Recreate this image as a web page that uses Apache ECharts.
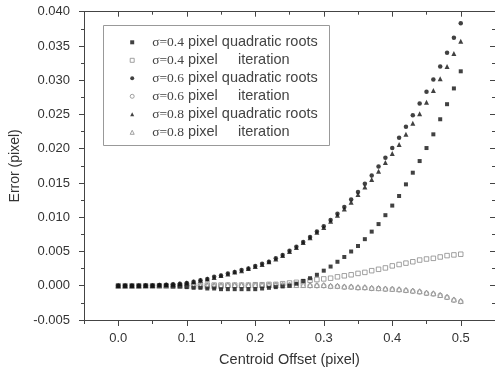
<!DOCTYPE html>
<html>
<head>
<meta charset="utf-8">
<script src="https://cdn.jsdelivr.net/npm/echarts@6/dist/echarts.min.js"></script>
<style>html,body{margin:0;padding:0;background:#fff;}#c{width:495px;height:374px;}</style>
</head>
<body>
<div id="c"></div>
<script>
const offsets = [0,0.01,0.02,0.03,0.04,0.05,0.06,0.07,0.08,0.09,
 0.10,0.11,0.12,0.13,0.14,0.15,0.16,0.17,0.18,0.19,
 0.20,0.21,0.22,0.23,0.24,0.25,0.26,0.27,0.28,0.29,
 0.30,0.31,0.32,0.33,0.34,0.35,0.36,0.37,0.38,0.39,
 0.40,0.41,0.42,0.43,0.44,0.45,0.46,0.47,0.48,0.49,0.50];

const quad04 = [0,0,0,0,0,0,0,0,-0.0001,-0.0001,
 -0.0002,-0.0003,-0.0003,-0.0004,-0.0004,-0.0005,-0.0005,-0.0005,-0.0005,-0.0005,
 -0.0005,-0.0004,-0.0003,-0.0002,-0.0001,0.0000,0.0003,0.0007,0.0011,0.0016,
 0.0022,0.0028,0.0035,0.0042,0.0050,0.0058,0.0068,0.0079,0.0090,0.0103,
 0.0117,0.0131,0.0148,0.0165,0.0182,0.0201,0.0221,0.0243,0.0265,0.0288,
 0.0313];
const iter04 = [0,0,0,0,0,0,0,0,0,0,
 0.0001,0.0001,0.0001,0.0001,0.0001,0.0001,0.0001,0.0001,0.0001,0.0001,
 0.00015,0.00015,0.0002,0.0002,0.0003,0.0004,0.0005,0.0006,0.0008,0.0009,
 0.0010,0.0011,0.0013,0.00145,0.0016,0.0018,0.00195,0.0022,0.0024,0.0026,
 0.0029,0.0031,0.0033,0.0035,0.00375,0.0039,0.0040,0.0042,0.0044,0.0045,
 0.0046];
const quad06 = [0,0,0,0,0.00002,0.00005,0.0001,0.00015,0.0002,0.0003,
 0.0004,0.0006,0.0008,0.0010,0.0013,0.0015,0.0018,0.0020,0.0023,0.0025,
 0.0029,0.0032,0.0035,0.0040,0.0045,0.0051,0.0057,0.0064,0.0071,0.0079,
 0.0087,0.0096,0.0105,0.0115,0.0126,0.0137,0.0149,0.0161,0.0174,0.0187,
 0.0201,0.0216,0.0232,0.0249,0.0266,0.0283,0.0301,0.0320,0.0340,0.0362,
 0.0383];
const iter06 = [0,0,0,0,0,0,0,0,0,0,
 0,0,0,0,0,0,0,0,0,0,
 0.0001,0.0001,0.0001,0.0001,0.0001,0.0001,0.0001,0.0001,0,0,
 0,-0.0001,-0.0001,-0.0002,-0.0002,-0.0003,-0.0003,-0.0004,-0.0004,-0.0005,
 -0.0005,-0.0006,-0.0007,-0.0008,-0.0009,-0.0011,-0.0012,-0.0014,-0.0017,-0.0021,
 -0.0023];
const quad08 = [0,0,0,0,0.00002,0.00005,0.0001,0.00015,0.0002,0.0003,
 0.0004,0.0006,0.0008,0.0010,0.0012,0.0015,0.0017,0.0020,0.0022,0.0025,
 0.0028,0.0031,0.0035,0.0039,0.0044,0.0050,0.0056,0.0063,0.0070,0.0078,
 0.0085,0.0094,0.0103,0.0112,0.0122,0.0133,0.0144,0.0155,0.0167,0.0180,
 0.0193,0.0206,0.0221,0.0237,0.0251,0.0268,0.0285,0.0302,0.0320,0.0339,
 0.0357];
const iter08 = [0,0,0,0,0,0,0,0,0,0,
 0,0,0,0,0,0,0.0001,0.0001,0.0001,0.0001,
 0.0001,0.0001,0.0001,0.0001,0.0001,0.0001,0.0001,0.0001,0.0001,0.0001,
 0.0001,0,0,-0.0001,-0.0001,-0.0002,-0.0002,-0.0003,-0.00035,-0.0004,
 -0.00045,-0.0005,-0.0006,-0.0007,-0.0008,-0.0010,-0.0011,-0.00135,-0.0016,-0.0020,
 -0.0022];

const xLabelValues = [0, 0.1, 0.2, 0.3, 0.4, 0.5];
const seriesNames = [
  'σ=0.4 pixel quadratic roots',
  'σ=0.4 pixel     iteration',
  'σ=0.6 pixel quadratic roots',
  'σ=0.6 pixel     iteration',
  'σ=0.8 pixel quadratic roots',
  'σ=0.8 pixel     iteration'
];

const FILL = '#111';
const GRAY = '#8a8a8a';
const AX = '#444';
const TXT = '#333';

function pairs(ys) { return offsets.map((x, i) => [x, ys[i]]); }

const styles = [
  { symbol: 'rect', size: 4, itemStyle: { color: FILL } },
  { symbol: 'rect', size: 4.5, itemStyle: { color: '#fff', borderColor: GRAY, borderWidth: 1 } },
  { symbol: 'circle', size: 4.5, itemStyle: { color: FILL } },
  { symbol: 'circle', size: 4.5, itemStyle: { color: '#fff', borderColor: GRAY, borderWidth: 1 } },
  { symbol: 'triangle', size: 5, itemStyle: { color: FILL } },
  { symbol: 'triangle', size: 5, itemStyle: { color: '#fff', borderColor: GRAY, borderWidth: 1 } }
];
const seriesData = [quad04, iter04, quad06, iter06, quad08, iter08];
const drawOrder = [1, 3, 5, 0, 2, 4];

const series = drawOrder.map(k => ({
  type: 'scatter',
  name: seriesNames[k],
  symbol: styles[k].symbol,
  symbolSize: styles[k].size,
  itemStyle: styles[k].itemStyle,
  data: pairs(seriesData[k]),
  animation: false
}));

const chart = echarts.init(document.getElementById('c'), null, { renderer: 'canvas' });
const axisFont = { fontFamily: 'Liberation Sans, Arial, sans-serif', fontSize: 13, color: TXT };

chart.setOption({
  backgroundColor: '#fff',
  animation: false,
  grid: { left: 82, right: -3.7, top: 11.7, bottom: 54, containLabel: false },
  xAxis: [
    {
      type: 'value', position: 'bottom', min: -0.05, max: 0.55, interval: 0.1,
      name: 'Centroid Offset (pixel)', nameLocation: 'middle', nameGap: 32,
      nameTextStyle: { fontFamily: 'Liberation Sans, Arial, sans-serif', fontSize: 14.5, color: TXT },
      axisLine: { show: true, onZero: false, lineStyle: { color: AX, width: 1 } },
      axisTick: { show: true, inside: false, length: 4, lineStyle: { color: AX } },
      minorTick: { show: true, splitNumber: 2, length: 6, lineStyle: { color: AX } },
      axisLabel: Object.assign({ customValues: xLabelValues, margin: 12, formatter: v => v.toFixed(1) }, axisFont),
      splitLine: { show: false }, minorSplitLine: { show: false }
    },
    {
      type: 'value', position: 'top', min: -0.05, max: 0.55, interval: 0.1,
      axisLine: { show: true, onZero: false, lineStyle: { color: AX, width: 1 } },
      axisTick: { show: true, inside: true, length: 3, lineStyle: { color: AX } },
      minorTick: { show: true, splitNumber: 2, length: 5, lineStyle: { color: AX } },
      axisLabel: { show: false }, splitLine: { show: false }
    }
  ],
  yAxis: [
    {
      type: 'value', position: 'left', min: -0.005, max: 0.04, interval: 0.005,
      name: 'Error (pixel)', nameLocation: 'middle', nameGap: 62,
      nameTextStyle: { fontFamily: 'Liberation Sans, Arial, sans-serif', fontSize: 14, color: TXT },
      axisLine: { show: true, onZero: false, lineStyle: { color: AX, width: 1 } },
      axisTick: { show: true, inside: false, length: 5, lineStyle: { color: AX } },
      minorTick: { show: true, splitNumber: 2, length: 3, lineStyle: { color: AX } },
      axisLabel: Object.assign({ margin: 14, formatter: v => v.toFixed(3) }, axisFont),
      splitLine: { show: false }
    },
    {
      type: 'value', position: 'right', min: -0.005, max: 0.04, interval: 0.005,
      axisLine: { show: true, onZero: false, lineStyle: { color: AX, width: 1 } },
      axisTick: { show: true, inside: true, length: 5, lineStyle: { color: AX } },
      minorTick: { show: true, splitNumber: 2, length: 3, lineStyle: { color: AX } },
      axisLabel: { show: false }, splitLine: { show: false }
    }
  ],
  legend: {
    orient: 'vertical', left: 129.7, top: 33.3, padding: 0, itemGap: 0,
    itemWidth: 4, itemHeight: 4, selectedMode: false,
    data: seriesNames.map((n, k) => ({
      name: n, icon: styles[k].symbol,
      itemStyle: Object.assign({ borderWidth: 0 }, styles[k].itemStyle)
    })),
    formatter: function (name) {
      const i = name.indexOf(' ');
      return '{s|' + name.slice(0, i) + '}{t|' + name.slice(i) + '}';
    },
    textStyle: {
      color: TXT, lineHeight: 18,
      rich: {
        s: { fontFamily: 'Liberation Serif, Times New Roman, serif', fontSize: 13.5, color: '#444', lineHeight: 18, padding: [0, 0, 0, 13] },
        t: { fontFamily: 'Liberation Sans, Arial, sans-serif', fontSize: 14.5, color: '#444', lineHeight: 18 }
      }
    }
  },
  graphic: [
    { type: 'rect', shape: { x: 103.5, y: 25.5, width: 226, height: 120 }, style: { fill: 'none', stroke: '#999', lineWidth: 1 }, z: 10 }
  ],
  series: series
});
</script>
</body>
</html>
